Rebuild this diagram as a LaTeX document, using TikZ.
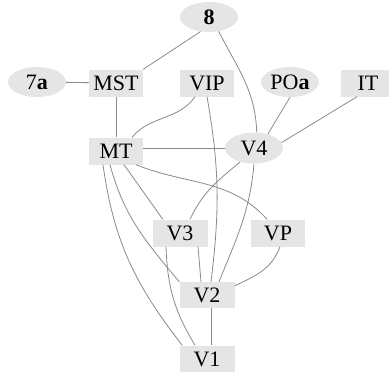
\documentclass[tikz,border=0pt]{standalone}
\usepackage{fontspec}
\setmainfont{Liberation Serif}
\usetikzlibrary{shapes.geometric,calc}
\definecolor{nodefill}{HTML}{E5E5E5}
\definecolor{edgecol}{HTML}{8A8A8A}
\tikzset{
  boxnode/.style={rectangle, fill=nodefill, minimum width=54pt, minimum height=27pt, inner sep=0pt, font=\fontsize{22}{26}\selectfont},
  ellnode/.style={ellipse, fill=nodefill, minimum width=58pt, minimum height=30pt, inner sep=0pt, font=\fontsize{22}{26}\selectfont},
  edge/.style={draw=edgecol, line width=0.8pt}
}
\begin{document}
\begin{tikzpicture}[x=1pt,y=-1pt]
\useasboundingbox (0,0) rectangle (389,372);
% nodes
\node[ellnode] (n8) at (209,17) {\textbf{8}};
\node[ellnode] (n7a) at (37,82) {7\textbf{a}};
\node[boxnode] (MST) at (116,83) {MST};
\node[boxnode] (VIP) at (207,83) {VIP};
\node[ellnode] (POa) at (290,82) {PO\textbf{a}};
\node[boxnode] (IT) at (368,83) {IT};
\node[boxnode] (MT) at (116,151) {MT};
\node[ellnode, minimum height=31pt] (V4) at (254,148) {V4};
\node[boxnode, minimum width=55pt] (V3) at (180,233) {V3};
\node[boxnode] (VP) at (278,233) {VP};
\node[boxnode, minimum width=55pt, minimum height=26pt] (V2) at (207,295) {V2};
\node[boxnode, minimum width=55pt] (V1) at (207,359) {V1};
% edges
\draw[edge] (n8.240) -- (MST.north east);
\draw[edge] (n8.-56) to[out=-63,in=92] (V4.80);
\draw[edge] (n7a) -- (MST);
\draw[edge] (MST) -- (MT);
\draw[edge] ($(VIP.south)+(-12,0)$) to[out=235,in=50] ($(MT.north)+(16,0)$);
\draw[edge] (VIP.south) to[out=-80,in=83] ($(V2.north)+(4,0)$);
\draw[edge] (POa.south) -- (V4.45);
\draw[edge] ($(IT.south)+(-11,0)$) -- (V4.11);
\draw[edge] (V4 -| MT.east) -- (V4.west);
\draw[edge] (V4.225) to[out=220,in=65] ($(V3.north)+(10,0)$);
\draw[edge] (V4.south) to[out=-95,in=68] ($(V2.north)+(12,0)$);
\draw[edge] ($(MT.south)+(8,0)$) -- ($(V3.north west)+(10.5,0)$);
\draw[edge] ($(MT.south)+(20,0)$) to[out=-22,in=132] ($(VP.north)+(-11,0)$);
\draw[edge] ($(MT.south)+(-6,0)$) to[out=-75,in=130] (V2.north west);
\draw[edge] ($(MT.south)+(-13,0)$) to[out=-82,in=128] ($(V1.north west)+(3,0)$);
\draw[edge] ($(V3.south)+(18,0)$) -- ($(V2.north)+(-6,0)$);
\draw[edge] ($(V3.south)+(-14,0)$) to[out=-88,in=121] ($(V1.north)+(-12,0)$);
\draw[edge] ($(VP.south)+(2,0)$) to[out=-110,in=25] ($(V2.north east)+(0,4)$);
\draw[edge] ($(V2.south)+(4.5,0)$) -- ($(V1.north)+(4.5,0)$);
\end{tikzpicture}
\end{document}
